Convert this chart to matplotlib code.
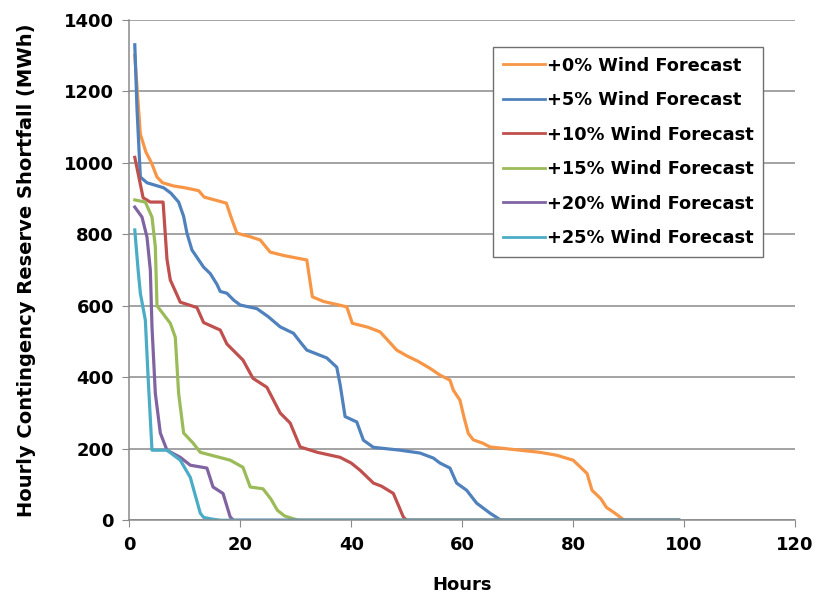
import matplotlib.pyplot as plt

plt.rcParams['font.family'] = ['DejaVu Sans']
plt.rcParams['font.weight'] = 'bold'

# hours / shortfall (MWh), one pair of lists per case
h0 = [1, 2, 3, 4, 5, 6, 8, 10, 12.5, 13.5, 17.5, 18.3, 19.4, 21.8, 23.6, 25.4, 28, 32, 33, 35,
      39.2, 40.2, 43, 45.2, 46.5, 48.2, 50, 52, 54.2, 56, 57.8, 58.4, 59.6, 60.3, 61.1, 62,
      63.8, 65, 68, 74, 77, 80, 82.5, 83.4, 85, 86, 87.5, 88.8, 89, 99]
v0 = [1300, 1080, 1030, 1000, 960, 944, 935, 930, 922, 904, 887, 850, 803, 793, 784, 750, 740, 728, 625, 612,
      597, 551, 540, 527, 505, 476, 460, 445, 425, 406, 392, 364, 336, 290, 243, 225,
      215, 205, 200, 190, 182, 168, 131, 84, 60, 36, 20, 5, 0, 0]

h5 = [1, 1.4, 2, 3.2, 6.2, 7.5, 8.9, 9.8, 10.4, 11.3, 13.4, 14.6, 15.8, 16.4, 17.6, 18.8, 20, 23,
      25, 27.2, 29.6, 31, 32, 35.6, 37.4, 38, 38.9, 41, 42.2, 44, 48.8, 52.4, 54.8, 56, 57.8,
      59, 60.8, 62.6, 65, 66.5, 67, 99]
v5 = [1330, 1150, 960, 944, 930, 915, 890, 850, 803, 756, 708, 690, 660, 640, 635, 616, 602, 592,
      570, 541, 523, 495, 476, 454, 428, 380, 290, 275, 224, 204, 196, 188, 174, 160, 146,
      104, 84, 48, 20, 5, 0, 0]

h10 = [1, 1.6, 2.5, 3.8, 6.1, 6.8, 7.4, 9.2, 12.2, 13.4, 16.4, 17.6, 20.5, 22.3, 24.8, 27.2, 29,
       30.8, 33.9, 38, 40, 41.6, 44, 45.5, 47.6, 49.4, 50, 99]
v10 = [1015, 970, 902, 890, 890, 730, 672, 610, 595, 553, 532, 493, 448, 397, 372, 300, 272,
       205, 190, 176, 160, 140, 104, 95, 75, 9, 0, 0]

h15 = [1, 2.9, 4.1, 4.7, 5, 7.4, 8.3, 8.9, 9.8, 11.5, 12.8, 18.2, 20.5, 21.8, 24.1, 25.5, 26.7,
       28, 29.6, 30.5, 99]
v15 = [896, 890, 848, 765, 600, 551, 512, 355, 244, 216, 190, 168, 148, 93, 88, 60, 28,
       12, 4, 0, 0]

h20 = [1, 2.3, 3.2, 3.8, 4.1, 4.7, 5.6, 6.8, 9.2, 11, 14, 15.1, 16.9, 18.2, 18.8, 99]
v20 = [876, 848, 792, 700, 541, 355, 244, 196, 176, 154, 146, 93, 75, 9, 0, 0]

h25 = [1, 1.6, 2, 2.9, 3.4, 4.1, 6.8, 9.2, 11, 12.8, 13.4, 15, 16.5, 99]
v25 = [812, 700, 635, 560, 400, 196, 196, 168, 120, 20, 8, 3, 0, 0]

labels = ['+0% Wind Forecast', '+5% Wind Forecast', '+10% Wind Forecast',
          '+15% Wind Forecast', '+20% Wind Forecast', '+25% Wind Forecast']
colors = ['#F79646', '#4F81BD', '#C0504D', '#9BBB59', '#8064A2', '#4BACC6']

fig = plt.figure(figsize=(8.18, 5.98), dpi=100)
ax = fig.add_axes([0.158, 0.130, 0.814, 0.837])

series = [(h0, v0), (h5, v5), (h10, v10), (h15, v15), (h20, v20), (h25, v25)]
for (h, v), lab, c in zip(series, labels, colors):
    ax.plot(h, v, color=c, lw=2.3, label=lab, solid_joinstyle='round')

ax.set_xlim(0, 120)
ax.set_ylim(0, 1400)
ax.set_xticks(range(0, 121, 20))
ax.set_yticks(range(0, 1401, 200))
ax.yaxis.grid(True, color='#8a8a8a', lw=1.1)
ax.set_axisbelow(True)
for s in ['top', 'right']:
    ax.spines[s].set_visible(False)
for s in ['left', 'bottom']:
    ax.spines[s].set_color('#8a8a8a')
    ax.spines[s].set_linewidth(1.1)
ax.tick_params(direction='out', length=5, color='#8a8a8a', labelsize=13, pad=6)

ax.set_xlabel('Hours', fontsize=13, fontweight='bold', labelpad=16)
ax.set_ylabel('Hourly Contingency Reserve Shortfall (MWh)', fontsize=14, fontweight='bold', labelpad=20)

leg = ax.legend(loc='upper left', bbox_to_anchor=(0.547, 0.946), borderaxespad=0,
                fancybox=False, framealpha=1, edgecolor='#707070', fontsize=12.8,
                handlelength=2.35, handletextpad=0.1, labelspacing=0.93, borderpad=0.55)
for line in leg.get_lines():
    line.set_linewidth(2)

plt.savefig('out.png', dpi=100)
